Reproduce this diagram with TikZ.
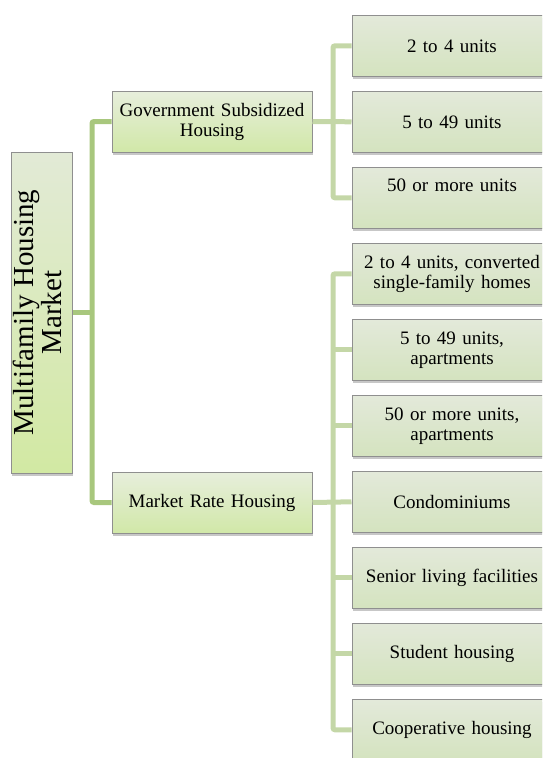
\documentclass[tikz,border=0pt]{standalone}
\usepackage{fontspec}
\setmainfont{Liberation Serif}
\usetikzlibrary{shadows}
\definecolor{trunkgreen}{HTML}{A8C77D}
\definecolor{branchgreen}{HTML}{C4D7A7}
\definecolor{boxedge}{HTML}{8F8F8F}
\definecolor{roottop}{HTML}{E2EAD6}
\definecolor{rootbottom}{HTML}{D2E9A3}
\definecolor{cattop}{HTML}{E7EEDC}
\definecolor{catbottom}{HTML}{D1E8A8}
\definecolor{leaftop}{HTML}{E3E9DA}
\definecolor{leafbottom}{HTML}{D4E3BF}
\tikzset{
  boxshadow/.style={drop shadow={shadow xshift=0.5pt,shadow yshift=-3pt,
    opacity=0.22,fill=black}},
  rootbox/.style={draw=boxedge,line width=1pt,top color=roottop,
    bottom color=rootbottom,boxshadow,inner sep=0pt,
    minimum width=61pt,minimum height=321pt,font=\fontsize{29}{27}\selectfont},
  catbox/.style={draw=boxedge,line width=1pt,top color=cattop,
    bottom color=catbottom,boxshadow,inner sep=0pt,
    minimum width=200pt,minimum height=61pt,text width=198pt,align=center,
    font=\fontsize{19}{20}\selectfont},
  leafbox/.style={draw=boxedge,line width=1pt,top color=leaftop,
    bottom color=leafbottom,boxshadow,inner sep=0pt,
    minimum width=200pt,minimum height=61pt,text width=198pt,align=center,
    font=\fontsize{19}{20}\selectfont},
  trunkline/.style={draw=trunkgreen,line width=5pt,rounded corners=2pt},
  branchline/.style={draw=branchgreen,line width=5pt,rounded corners=2pt}
}

\begin{document}
\begin{tikzpicture}[x=1pt,y=-1pt]
  \useasboundingbox (0,0) rectangle (542,758);
  \clip (0,0) rectangle (542,758);
  % root and the two housing types
  \node[rootbox] (root) at (41.5,312.5)
    {\rotatebox{90}{\begin{tabular}{@{}c@{}}Multifamily Housing\\Market\end{tabular}}};
  \node[catbox] (gov) at (212,121.5) {Government Subsidized\\Housing};
  \node[catbox] (mkt) at (212,502.5) {Market Rate Housing};
  % government subsidized
  \node[leafbox] (g1) at (452,45.8) {2 to 4 units};
  \node[leafbox] (g2) at (452,121.8) {5 to 49 units};
  \node[leafbox] (g3) at (452,197.8) {50 or more units\\\strut};
  % market rate
  \node[leafbox] (m1) at (452,273.8) {2 to 4 units, converted\\single-family homes};
  \node[leafbox] (m2) at (452,349.8) {5 to 49 units,\\apartments};
  \node[leafbox] (m3) at (452,425.8) {50 or more units,\\apartments};
  \node[leafbox] (m4) at (452,501.8) {Condominiums};
  \node[leafbox] (m5) at (452,577.8) {Senior living facilities};
  \node[leafbox] (m6) at (452,653.8) {Student housing};
  \node[leafbox] (m7) at (452,729.8) {Cooperative housing};
  % connectors
  \coordinate (rj) at (92,312.5);
  \coordinate (gj) at (333,121.5);
  \coordinate (mj) at (333,502.5);
  \draw[trunkline] (root.east) -- (rj);
  \draw[trunkline] (gov.west) -| (rj) |- (mkt.west);
  \draw[branchline] (gov.east) -- (g2.west);
  \draw[branchline] (g1.west) -| (gj) |- (g3.west);
  \draw[branchline] (mkt.east) -- (m4.west);
  \draw[branchline] (m1.west) -| (mj) |- (m7.west);
  \draw[branchline] (mj |- m2.west) -- (m2.west);
  \draw[branchline] (mj |- m3.west) -- (m3.west);
  \draw[branchline] (mj |- m5.west) -- (m5.west);
  \draw[branchline] (mj |- m6.west) -- (m6.west);
\end{tikzpicture}
\end{document}
